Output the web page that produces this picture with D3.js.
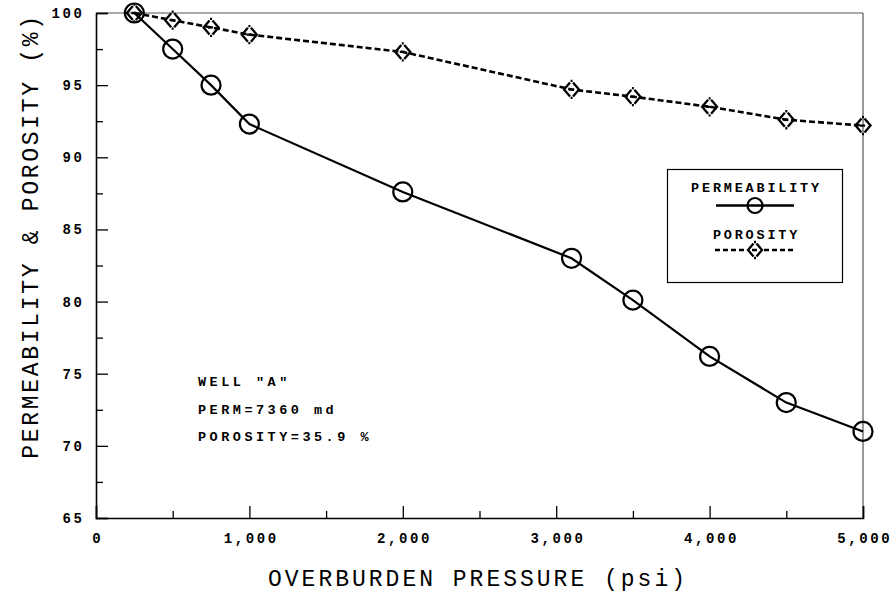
<!DOCTYPE html>
<html>
<head>
<meta charset="utf-8">
<script src="https://cdn.jsdelivr.net/npm/d3@7"></script>
<style>
  html, body { margin: 0; padding: 0; background: #fff; }
  svg { display: block; }
</style>
</head>
<body>
<svg id="chart" width="893" height="592"></svg>
<script>
// ---- data ----
const pressure = [250, 500, 750, 1000, 2000, 3100, 3500, 4000, 4500, 5000];
const permeability = [100, 97.5, 95.0, 92.3, 87.6, 83.0, 80.1, 76.2, 73.0, 71.0];
const porosity = [100, 99.5, 99.0, 98.5, 97.3, 94.7, 94.2, 93.5, 92.6, 92.2];
const xMajorTicks = [0, 1000, 2000, 3000, 4000, 5000];
const xMinorTicks = [500, 1500, 2500, 3500, 4500];
const yMajorTicks = [65, 70, 75, 80, 85, 90, 95, 100];
const yMinorTicks = [67.5, 72.5, 77.5, 82.5, 87.5, 92.5, 97.5];
const seriesNames = ["PERMEABILITY", "POROSITY"];
const noteLines = ['WELL "A"', "PERM=7360 md", "POROSITY=35.9 %"];
const xTitle = "OVERBURDEN PRESSURE (psi)";
const yTitle = "PERMEABILITY & POROSITY (%)";

// ---- layout ----
const svg = d3.select("#chart");
const L = 96, R = 863, T = 13, B = 518;
const x = d3.scaleLinear().domain([0, 5000]).range([L, R]);
const y = d3.scaleLinear().domain([65, 100]).range([B, T]);
const mono = "'Liberation Mono', 'Courier New', monospace";

// frame (top + right)
svg.append("line").attr("x1", L).attr("x2", R).attr("y1", T).attr("y2", T)
  .attr("stroke", "#555").attr("stroke-width", 1);
svg.append("line").attr("x1", R).attr("x2", R).attr("y1", T).attr("y2", B)
  .attr("stroke", "#333").attr("stroke-width", 1);

// x axis
const fmt = d3.format(",");
const xAxis = svg.append("g").attr("transform", `translate(0,${B})`)
  .call(d3.axisBottom(x).tickValues(xMajorTicks).tickSize(-12).tickPadding(15)
    .tickFormat(d => fmt(d)));
svg.append("g").attr("transform", `translate(0,${B})`)
  .call(d3.axisBottom(x).tickValues(xMinorTicks).tickSize(-7).tickFormat(""))
  .call(g => g.select(".domain").remove());

// y axis
const yAxis = svg.append("g").attr("transform", `translate(${L},0)`)
  .call(d3.axisLeft(y).tickValues(yMajorTicks).tickSize(-12).tickPadding(14));
svg.append("g").attr("transform", `translate(${L},0)`)
  .call(d3.axisLeft(y).tickValues(yMinorTicks).tickSize(-7).tickFormat(""))
  .call(g => g.select(".domain").remove());

svg.selectAll(".domain").attr("stroke", "#000").attr("stroke-width", 1.6);
svg.selectAll(".tick line").attr("stroke", "#000").attr("stroke-width", 1.3);
svg.selectAll(".tick text")
  .attr("font-family", mono).attr("font-size", 14).attr("font-weight", "bold")
  .attr("letter-spacing", 2.6).attr("fill", "#000");
yAxis.selectAll(".tick text").attr("dx", 2.6);
xAxis.selectAll(".tick text").attr("dx", 1.3);

// axis titles
svg.append("text").attr("x", 478).attr("y", 586)
  .attr("text-anchor", "middle").attr("font-family", mono).attr("font-size", 23)
  .attr("letter-spacing", 3.0).attr("fill", "#000").text(xTitle);
svg.append("text").attr("transform", "translate(38,236) rotate(-90)")
  .attr("text-anchor", "middle").attr("font-family", mono).attr("font-size", 23)
  .attr("letter-spacing", 2.7).attr("fill", "#000").text(yTitle);

// marker helpers
function drawCircle(g, cx, cy, r) {
  g.append("circle").attr("cx", cx).attr("cy", cy).attr("r", r)
    .attr("fill", "none").attr("stroke", "#000").attr("stroke-width", 2.2);
}
function drawDiamond(g, cx, cy, w, h) {
  const gap = 1.5;
  const p = `M${cx - gap},${cy - h + gap}L${cx - w},${cy}L${cx - gap},${cy + h - gap}` +
            `M${cx + gap},${cy - h + gap}L${cx + w},${cy}L${cx + gap},${cy + h - gap}` +
            `M${cx - 1},${cy - h}L${cx + 1},${cy - h}M${cx - 1},${cy + h}L${cx + 1},${cy + h}` +
            `M${cx - 3},${cy}L${cx + 2},${cy}`;
  g.append("path").attr("d", p).attr("fill", "none").attr("stroke", "#000")
    .attr("stroke-width", 2.3).attr("stroke-linejoin", "miter");
}

// lines
const lineGen = d3.line().x(d => x(d[0])).y(d => y(d[1]));
const permPts = pressure.map((p, i) => [p, permeability[i]]);
const poroPts = pressure.map((p, i) => [p, porosity[i]]);

svg.append("path").datum(poroPts).attr("d", lineGen).attr("fill", "none")
  .attr("stroke", "#000").attr("stroke-width", 2.6).attr("stroke-dasharray", "6,3");
svg.append("path").datum(permPts).attr("d", lineGen).attr("fill", "none")
  .attr("stroke", "#000").attr("stroke-width", 2.2);

const mk = svg.append("g");
poroPts.forEach(d => drawDiamond(mk, x(d[0]), y(d[1]), 7.5, 8.5));
permPts.forEach(d => drawCircle(mk, x(d[0]), y(d[1]), 9.5));

// annotation
const note = svg.append("g");
noteLines.forEach((t, i) => {
  note.append("text").attr("x", 198).attr("y", 386 + i * 27.5)
    .attr("font-family", mono).attr("font-size", 13.5).attr("font-weight", "bold")
    .attr("letter-spacing", 3.5).attr("fill", "#000").text(t);
});

// legend
const lg = svg.append("g");
lg.append("rect").attr("x", 667.5).attr("y", 169.5).attr("width", 175).attr("height", 113)
  .attr("fill", "#fff").attr("stroke", "#000").attr("stroke-width", 1.2);
const lcx = 755;
lg.append("text").attr("x", lcx + 1.5).attr("y", 191.5).attr("text-anchor", "middle")
  .attr("font-family", mono).attr("font-size", 13.5).attr("font-weight", "bold")
  .attr("letter-spacing", 2.8).attr("fill", "#000").text(seriesNames[0]);
lg.append("line").attr("x1", 716).attr("x2", 794).attr("y1", 205.5).attr("y2", 205.5)
  .attr("stroke", "#000").attr("stroke-width", 2.4);
drawCircle(lg, lcx, 205.5, 7.5);
lg.append("text").attr("x", lcx + 1.5).attr("y", 239).attr("text-anchor", "middle")
  .attr("font-family", mono).attr("font-size", 13.5).attr("font-weight", "bold")
  .attr("letter-spacing", 2.8).attr("fill", "#000").text(seriesNames[1]);
[[715, lcx - 9], [lcx + 9, 795]].forEach(([a, b]) => {
  lg.append("line").attr("x1", a).attr("x2", b).attr("y1", 250).attr("y2", 250)
    .attr("stroke", "#000").attr("stroke-width", 2.4).attr("stroke-dasharray", "5,3");
});
drawDiamond(lg, lcx, 250, 7, 8);
</script>
</body>
</html>
